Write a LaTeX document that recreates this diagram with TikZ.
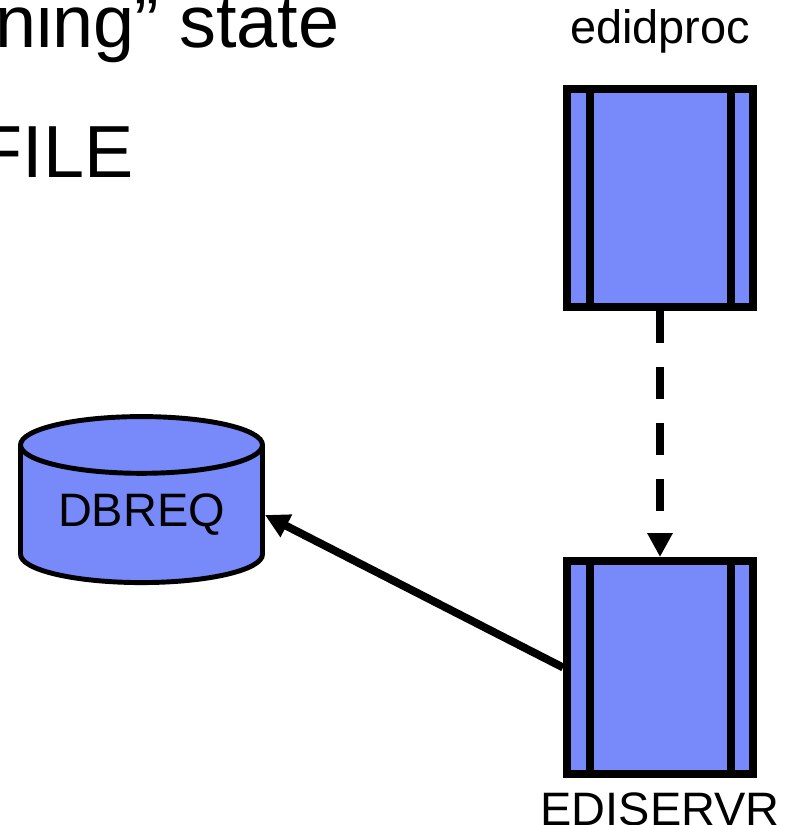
\documentclass[tikz,border=0pt]{standalone}
\usepackage{fontspec}
\setmainfont{Liberation Sans}
\usetikzlibrary{positioning,shapes.geometric,arrows.meta}
\definecolor{procblue}{RGB}{120,137,250}
\begin{document}
\begin{tikzpicture}[
    proc/.style={draw, fill=procblue, line width=4.5pt, inner sep=0pt,
        minimum width=3.72cm, minimum height=4.36cm,
        path picture={
            \draw[line width=4.5pt] ([xshift=0.46cm]path picture bounding box.north west) -- ([xshift=0.46cm]path picture bounding box.south west);
            \draw[line width=4.5pt] ([xshift=-0.44cm]path picture bounding box.north east) -- ([xshift=-0.44cm]path picture bounding box.south east);
        }},
    db/.style={cylinder, shape border rotate=90, aspect=0.34, draw, fill=procblue,
        line width=2.8pt, minimum width=4.84cm, minimum height=3.32cm, inner sep=0pt,
        font=\fontsize{26.7}{32}\selectfont},
    lbl/.style={font=\fontsize{26.7}{32}\selectfont, inner sep=0pt},
    big/.style={font=\fontsize{42}{50}\selectfont, inner sep=0pt},
    flow/.style={line width=4.5pt, -{Triangle[width=0.48cm,length=0.48cm]}}
]
    \useasboundingbox (0,0) rectangle (15.74,16.5);
    \clip (0,0) rectangle (15.74,16.5);
    \node[big, anchor=base east] (statetxt) at (6.8,15.54) {ning” state};
    \node[big, anchor=base east] (filetxt) at (2.68,12.94) {FILE};
    \node[proc] (edidproc) at (13.2,12.54) {};
    \node[proc, minimum height=4.26cm] (ediservr) at (13.2,3.15) {};
    \node[db] (dbreq) at (2.83,6.2) {DBREQ};
    \node[lbl, above=0.84cm of edidproc, anchor=base] (proclbl) {edidproc};
    \node[lbl, below=0.95cm of ediservr, anchor=base] (servlbl) {EDISERVR};
    \draw[flow, dash pattern=on 0.64cm off 0.48cm] (edidproc) -- (ediservr);
    \draw[flow] (ediservr.west) -- (dbreq.east);
\end{tikzpicture}
\end{document}
